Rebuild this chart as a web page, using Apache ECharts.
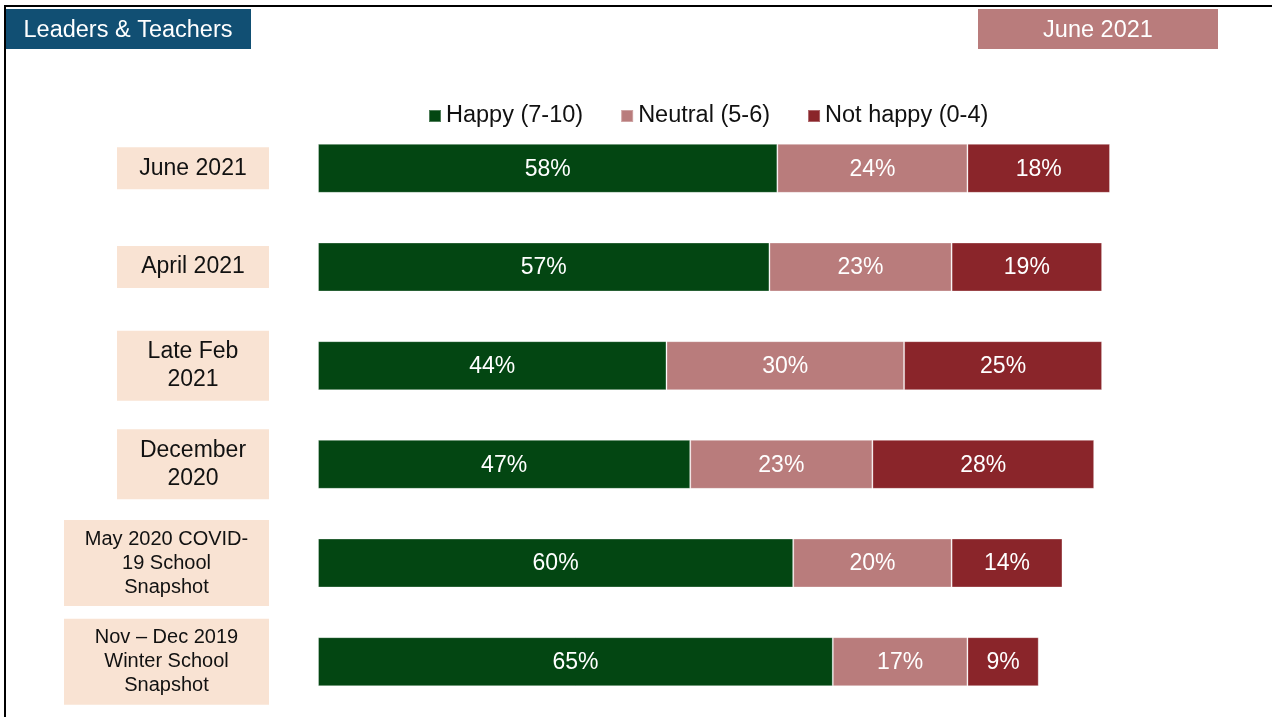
<!DOCTYPE html>
<html>
<head>
<meta charset="utf-8">
<title>Leaders & Teachers – Happiness</title>
<script src="https://cdn.jsdelivr.net/npm/echarts@6/dist/echarts.min.js"></script>
<style>
  html, body { margin: 0; padding: 0; background: #fff; }
  #chart { width: 1272px; height: 717px; }
</style>
</head>
<body>
<div id="chart"></div>
<script>
// Survey waves (top to bottom)
const categories = [
  'June 2021',
  'April 2021',
  'Late Feb\n2021',
  'December\n2020',
  'May 2020 COVID-\n19 School\nSnapshot',
  'Nov – Dec 2019\nWinter School\nSnapshot'
];

// Share of respondents per wave, in percent
const happy    = [58, 57, 44, 47, 60, 65];
const neutral  = [24, 23, 30, 23, 20, 17];
const notHappy = [18, 19, 25, 28, 14, 9];

const seriesNames = ['Happy (7-10)', 'Neutral (5-6)', 'Not happy (0-4)'];

const FONT = 'Arial, "Liberation Sans", sans-serif';
const colors = ['#034612', '#B97C7C', '#8A252A'];

// Waves whose label box is drawn wider and with smaller text
const wideLabels = new Set([4, 5]);

const chart = echarts.init(document.getElementById('chart'), null, { renderer: 'canvas' });

function barSeries(name, values, color) {
  return {
    name: name,
    type: 'bar',
    stack: 'total',
    barWidth: 49,
    data: values,
    itemStyle: {
      color: color,
      borderColor: 'rgba(255,255,255,0.3)',
      borderWidth: 1
    },
    label: {
      show: true,
      position: 'inside',
      offset: [0, 1],
      color: '#fff',
      fontFamily: FONT,
      fontSize: 23,
      formatter: p => p.value + '%'
    },
    emphasis: { disabled: true }
  };
}

const option = {
  animation: false,
  backgroundColor: '#fff',
  textStyle: { fontFamily: FONT },
  legend: {
    left: 423,
    top: 99,
    icon: 'rect',
    itemWidth: 12,
    itemHeight: 12,
    itemGap: 37,
    textStyle: { fontFamily: FONT, fontSize: 23.5, color: '#111' },
    data: seriesNames
  },
  grid: {
    left: 318,
    right: 162,
    top: 119,
    bottom: 6
  },
  xAxis: {
    type: 'value',
    min: 0,
    max: 100,
    show: false
  },
  yAxis: {
    type: 'category',
    inverse: true,
    data: categories,
    axisLine: { show: false },
    axisTick: { show: false },
    splitLine: { show: false },
    axisLabel: {
      interval: 0,
      margin: 49,
      align: 'right',
      backgroundColor: '#F9E3D3',
      padding: [7, 0, 7, 0],
      formatter: (value, index) => {
        const key = wideLabels.has(index) ? 'w' : 'n';
        return value.split('\n').map(line => '{' + key + '|' + line + '}').join('\n');
      },
      rich: {
        n: {
          width: 152,
          align: 'center',
          fontFamily: FONT,
          fontSize: 23,
          lineHeight: 28,
          color: '#111'
        },
        w: {
          width: 205,
          align: 'center',
          fontFamily: FONT,
          fontSize: 20,
          lineHeight: 24,
          color: '#111'
        }
      }
    }
  },
  series: [
    barSeries(seriesNames[0], happy, colors[0]),
    barSeries(seriesNames[1], neutral, colors[1]),
    barSeries(seriesNames[2], notHappy, colors[2])
  ],
  graphic: [
    // slide frame
    {
      type: 'polyline',
      shape: { points: [[5, 717], [5, 6], [1272, 6]] },
      style: { stroke: '#000', lineWidth: 2, fill: null },
      silent: true
    },
    // section tag
    {
      type: 'rect',
      shape: { x: 6, y: 9, width: 245, height: 40 },
      style: { fill: '#114F73' },
      silent: true
    },
    {
      type: 'text',
      x: 128, y: 30.5,
      style: {
        text: 'Leaders & Teachers',
        fill: '#fff',
        font: '23.5px ' + FONT,
        align: 'center',
        verticalAlign: 'middle'
      },
      silent: true
    },
    // current wave tag
    {
      type: 'rect',
      shape: { x: 978, y: 9, width: 240, height: 40 },
      style: { fill: '#B97C7C' },
      silent: true
    },
    {
      type: 'text',
      x: 1098, y: 30.5,
      style: {
        text: 'June 2021',
        fill: '#fff',
        font: '23.5px ' + FONT,
        align: 'center',
        verticalAlign: 'middle'
      },
      silent: true
    }
  ]
};

chart.setOption(option);
</script>
</body>
</html>
